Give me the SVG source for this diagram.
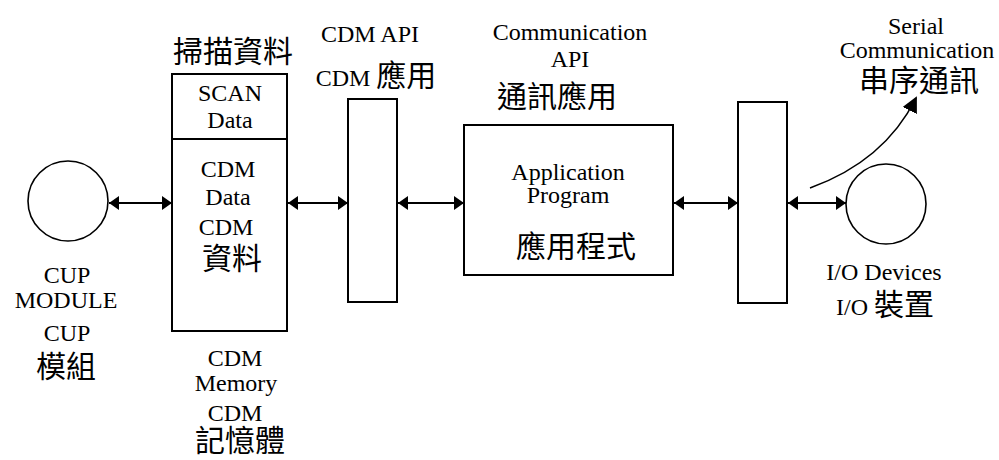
<svg xmlns="http://www.w3.org/2000/svg" width="999" height="460" viewBox="0 0 999 460">
  <defs>
    <marker id="head" viewBox="0 0 10 14" refX="10" refY="7" markerWidth="10" markerHeight="14" markerUnits="userSpaceOnUse" orient="auto-start-reverse">
      <path d="M0,0 L10,7 L0,14 Z" fill="#000"/>
    </marker>
    <marker id="head-big" viewBox="0 0 16 16" refX="14" refY="8" markerWidth="16" markerHeight="16" markerUnits="userSpaceOnUse" orient="auto">
      <path d="M0,0 L16,8 L0,16 Z" fill="#000"/>
    </marker>
  </defs>
  <style>
    .box { fill: #fff; stroke: #000; stroke-width: 2; }
    .ring { fill: #fff; stroke: #000; stroke-width: 1.6; }
    .link { fill: none; stroke: #000; stroke-width: 2; marker-start: url(#head); marker-end: url(#head); }
    .curve { fill: none; stroke: #000; stroke-width: 1.6; marker-end: url(#head-big); }
    text { font-family: "Liberation Serif", "Noto Sans CJK TC", serif; fill: #000; text-anchor: middle; }
    .en { font-size: 24px; }
    .zh { font-size: 30px; font-family: "Noto Sans CJK TC", "Liberation Serif", sans-serif; }
  </style>
  <rect width="999" height="460" fill="#fff"/>

  <!-- CUP module -->
  <g id="cup-module">
    <circle class="ring" cx="68" cy="201" r="40"/>
    <text class="en" x="67" y="283">CUP</text>
    <text class="en" x="66" y="308">MODULE</text>
    <text class="en" x="67" y="341">CUP</text>
    <text class="zh" x="66" y="377">模組</text>
  </g>

  <!-- CDM memory -->
  <g id="cdm-memory">
    <text class="zh" x="233" y="62">掃描資料</text>
    <rect class="box" x="172" y="74" width="115" height="257"/>
    <line x1="172" y1="139" x2="287" y2="139" stroke="#000" stroke-width="2"/>
    <text class="en" x="230" y="101">SCAN</text>
    <text class="en" x="230" y="128">Data</text>
    <text class="en" x="228" y="177">CDM</text>
    <text class="en" x="228" y="205">Data</text>
    <text class="en" x="226" y="235">CDM</text>
    <text class="zh" x="232" y="269">資料</text>
    <text class="en" x="235" y="366">CDM</text>
    <text class="en" x="236" y="391">Memory</text>
    <text class="en" x="235" y="421">CDM</text>
    <text class="zh" x="240" y="451" font-size="29px">記憶體</text>
  </g>

  <!-- CDM API -->
  <g id="cdm-api">
    <text class="en" x="370" y="42">CDM API</text>
    <text x="376" y="86"><tspan font-size="24px">CDM </tspan><tspan font-size="30px" font-family="Noto Sans CJK TC, sans-serif">應用</tspan></text>
    <rect class="box" x="348" y="99" width="49" height="203"/>
  </g>

  <!-- Application program -->
  <g id="application-program">
    <text class="en" x="570" y="40">Communication</text>
    <text class="en" x="570" y="67">API</text>
    <text class="zh" x="557" y="107">通訊應用</text>
    <rect class="box" x="464" y="125" width="209" height="150"/>
    <text class="en" x="568" y="180">Application</text>
    <text class="en" x="568" y="203">Program</text>
    <text class="zh" x="576" y="257">應用程式</text>
  </g>

  <!-- Communication API -->
  <g id="comm-api">
    <rect class="box" x="738" y="102" width="49" height="201"/>
  </g>

  <!-- I/O devices -->
  <g id="io-devices">
    <circle class="ring" cx="886" cy="204" r="40"/>
    <text class="en" x="884" y="280">I/O Devices</text>
    <text x="885" y="315"><tspan font-size="24px">I/O </tspan><tspan font-size="30px" font-family="Noto Sans CJK TC, sans-serif">裝置</tspan></text>
  </g>

  <!-- Serial communication -->
  <g id="serial-communication">
    <text class="en" x="916" y="34">Serial</text>
    <text class="en" x="917" y="58">Communication</text>
    <text class="zh" x="919" y="91">串序通訊</text>
  </g>

  <!-- Connectors -->
  <g id="connectors">
    <line class="link" x1="109" y1="203" x2="172" y2="203"/>
    <line class="link" x1="288" y1="203" x2="348" y2="203"/>
    <line class="link" x1="398" y1="203" x2="464" y2="203"/>
    <line class="link" x1="674" y1="203" x2="738" y2="203"/>
    <line class="link" x1="788" y1="203" x2="846" y2="203"/>
    <path class="curve" d="M810,188 C860,170 895,140 916,98"/>
  </g>
</svg>
